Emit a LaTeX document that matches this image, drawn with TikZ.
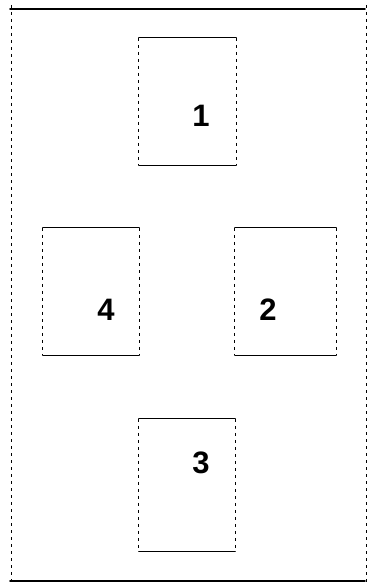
\documentclass[tikz,border=0pt]{standalone}
\usepackage{fontspec}
\setmainfont{Liberation Sans}
\begin{document}
\begin{tikzpicture}[x=1pt,y=-1pt,
  solidedge/.style={line width=1.2pt, line cap=round},
  dashedge/.style={line width=0.7pt, dash pattern=on 3pt off 4pt},
  cardbox/.style={inner sep=0pt, minimum width=#1},
  digit/.style={font=\bfseries\fontsize{31}{31}\selectfont, inner sep=0pt}]
\useasboundingbox (0,0) rectangle (369,583);
% outer frame
\coordinate (ftl) at (10,9);
\coordinate (ftr) at (365,9);
\coordinate (fbl) at (10,581);
\coordinate (fbr) at (365,581);
\draw[solidedge, line width=1.6pt] (ftl) -- (ftr);
\draw[solidedge, line width=1.6pt] (fbl) -- (fbr);
\draw[dashedge] ([xshift=1pt,yshift=4pt]ftl) -- ([xshift=1pt,yshift=-4pt]fbl);
\draw[dashedge] ([xshift=1pt,yshift=4pt]ftr) -- ([xshift=1pt,yshift=-4pt]fbr);
% boxes
\node[cardbox=97pt, minimum height=127pt] (b1) at (187.5,101.5) {};
\node[cardbox=96pt, minimum height=127pt] (b4) at (91,291.5) {};
\node[cardbox=101pt, minimum height=127pt] (b2) at (285.5,291.5) {};
\node[cardbox=96pt, minimum height=132pt] (b3) at (187,485) {};
\foreach \b in {b1,b2,b3,b4}{
  \draw[solidedge] (\b.north west) -- (\b.north east);
  \draw[solidedge] (\b.south west) -- (\b.south east);
  \draw[dashedge] (\b.north west) -- (\b.south west);
  \draw[dashedge] (\b.north east) -- (\b.south east);
}
% labels
\node[digit] (l1) at (201,116) {1};
\node[digit] (l4) at (106,310) {4};
\node[digit] (l2) at (268,310) {2};
\node[digit] (l3) at (201,463) {3};
\end{tikzpicture}
\end{document}
